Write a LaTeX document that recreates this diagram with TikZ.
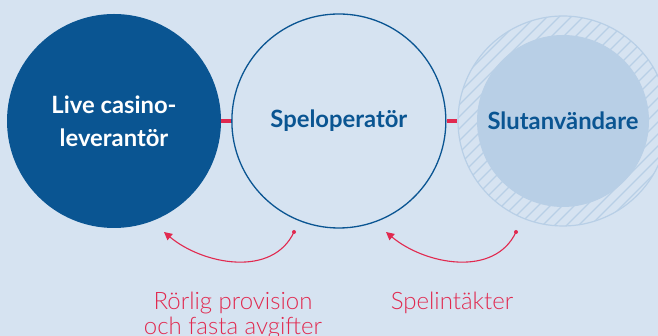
\documentclass[tikz,border=0pt]{standalone}
\usepackage{fontspec}
\setmainfont{Lato}
\newfontfamily\lightlato{Lato Light}
\usepackage{tikz}
\usetikzlibrary{positioning, arrows.meta}
\definecolor{bgblue}{HTML}{D6E3F1}
\definecolor{darkblue}{HTML}{0A5592}
\definecolor{paleblue}{HTML}{B8CFE6}
\definecolor{casinored}{HTML}{E1294F}
\tikzstyle{party} = [circle, minimum size=214pt, inner sep=0pt, align=center, font=\fontsize{23.8}{33}\selectfont\bfseries]
\tikzstyle{link} = [casinored, line width=4pt]
\tikzstyle{arrow} = [casinored, line width=1.1pt, -{Triangle[length=8pt,width=8pt]}]
\tikzstyle{flow} = [casinored, font=\lightlato\fontsize{24}{25}\selectfont, align=center]

\begin{document}
\begin{tikzpicture}[x=1pt, y=1pt]
    \fill[bgblue] (0,0) rectangle (658,336);
    \useasboundingbox (0,0) rectangle (658,336);
    \node (supplier) [party, fill=darkblue, text=white] at (114,215) {Live casino-\\leverantör};
    \node (operator) [party, draw=darkblue, line width=1.3pt, text=darkblue, right=10pt of supplier] {Speloperatör};
    % hatched ring round the end user
    \begin{scope}
        \clip (563,215) circle (105);
        \foreach \k in {-240,-228,...,240}
            \draw[paleblue, line width=1.2pt] (563+\k-120,215-120) -- (563+\k+120,215+120);
    \end{scope}
    \node (ring) [party, draw=paleblue, line width=1.2pt, minimum size=210pt] at (563,215) {};
    \node (user) [party, fill=paleblue, text=darkblue, minimum size=172pt] at (563,215) {Slutanvändare};
    \draw [link] (supplier.east) -- (operator.west);
    \draw [link] (operator.east) -- (ring.west);
    % money flows
    \coordinate (from1) at (294,104);
    \coordinate (to1) at (164,104);
    \coordinate (from2) at (516,104);
    \coordinate (to2) at (386,104);
    \fill[casinored] (from1) circle (2pt);
    \fill[casinored] (from2) circle (2pt);
    \draw [arrow] (from1) to[out=-115, in=-40] (to1);
    \draw [arrow] (from2) to[out=-115, in=-40] (to2);
    \node (fees) [flow, anchor=north] at (233,47) {Rörlig provision\\och fasta avgifter};
    \node (revenue) [flow, anchor=north] at (452,47) {Spelintäkter};
\end{tikzpicture}
\end{document}
